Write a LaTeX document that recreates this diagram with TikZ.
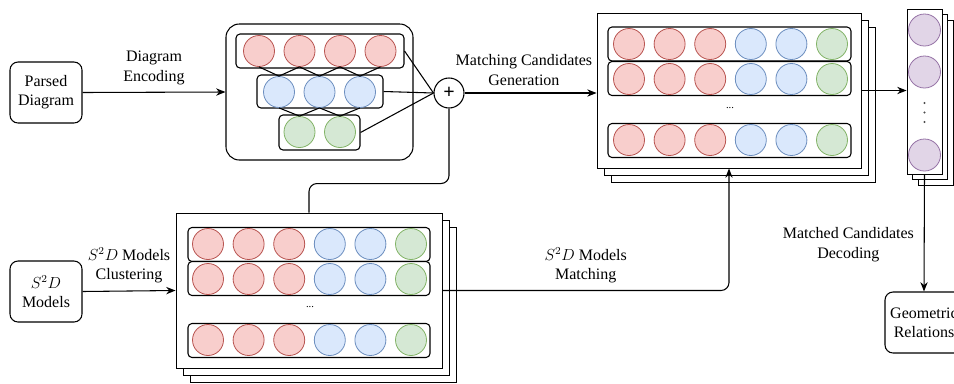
\documentclass[tikz,border=0pt]{standalone}
\usepackage{fontspec}
\setmainfont{Liberation Serif}
\usetikzlibrary{arrows.meta, positioning, calc}

\definecolor{unitred}{HTML}{F8CECC}
\definecolor{edgered}{HTML}{B85450}
\definecolor{unitblue}{HTML}{DAE8FC}
\definecolor{edgeblue}{HTML}{6C8EBF}
\definecolor{unitgreen}{HTML}{D5E8D4}
\definecolor{edgegreen}{HTML}{82B366}
\definecolor{unitpurple}{HTML}{E1D5E7}
\definecolor{edgepurple}{HTML}{9673A6}

\begin{document}
\begin{tikzpicture}[
    x=0.75pt, y=-0.75pt,
    every node/.style={font=\fontsize{12}{14.5}\selectfont, align=center},
    block/.style={draw, line width=0.8pt, rounded corners=6pt, fill=white, minimum width=54pt, minimum height=45.75pt, inner sep=0pt},
    rowbox/.style={draw, line width=0.8pt, rounded corners=3pt, fill=white, minimum height=25.5pt, inner sep=0pt},
    stackbox/.style={draw, line width=0.7pt, fill=white, inner sep=0pt},
    unit/.style={circle, line width=0.6pt, minimum size=23.25pt, inner sep=0pt},
    link/.style={line width=0.8pt},
    >={Stealth[length=7pt, width=5.5pt]}
]

% Canvas
\clip (0,0) rectangle (954,383);

% Inputs and output
\node[block] (pd) at (46,92.5) {Parsed\\Diagram};
\node[block] (sm) at (46,291.5) {$S^2D$\\Models};
\node[block, minimum width=58.5pt] (geo) at (924,322.5) {Geometric\\Relations};

% Diagram encoder
\node[draw, line width=0.8pt, rounded corners=10pt, minimum width=140.25pt, minimum height=102pt] (enc) at (319.5,92) {};
\node[rowbox, minimum width=126pt] (er) at (320,51) {};
\node[rowbox, minimum width=94.5pt, minimum height=24.75pt] (eb) at (320,91.5) {};
\node[rowbox, minimum width=60.75pt, minimum height=26.25pt] (eg) at (319.5,132.5) {};
\foreach \i/\x in {1/259,2/299.5,3/340,4/380.5}
  \node[unit, fill=unitred, draw=edgered] (r\i) at (\x,51) {};
\foreach \i/\x in {1/279,2/319.5,3/360}
  \node[unit, fill=unitblue, draw=edgeblue] (b\i) at (\x,92) {};
\foreach \i/\x in {1/299.5,2/340}
  \node[unit, fill=unitgreen, draw=edgegreen] (g\i) at (\x,132) {};
\foreach \a/\b in {1/1,2/1,2/2,3/2,3/3,4/3}
  \draw[link] (r\a.south) -- (b\b.north);
\foreach \a/\b in {1/1,2/1,2/2,3/2}
  \draw[link] (b\a.south) -- (g\b.north);

% Fusion
\node[circle, draw, line width=0.8pt, minimum size=22.5pt, inner sep=0pt, font=\fontsize{15}{15}\selectfont\bfseries] (plus) at (449,93) {+};
\draw[link] (er.east) -- (plus.west);
\draw[link] (eb.east) -- (plus.west);
\draw[link] (eg.east) -- (plus.west);

% Matching candidates stack
\node[stackbox, minimum width=198pt, minimum height=116.25pt] (cs3) at (743,104.5) {};
\node[stackbox, minimum width=198pt, minimum height=116.25pt] (cs2) at (736,97.5) {};
\node[stackbox, minimum width=198pt, minimum height=116.25pt] (cs) at (729,90.5) {};
\foreach \j/\y in {1/44,2/78.5,3/140.5}
  \node[rowbox, minimum width=182.25pt] (cr\j) at (729.5,\y) {};
\foreach \j/\y in {1/44,2/79,3/140}
  \foreach \c [count=\i] in {red,red,red,blue,blue,green}
    \node[unit, fill=unit\c, draw=edge\c] (c\j\i) at ({629+40.6*(\i-1)},\y) {};
\node[font=\footnotesize] (cdots) at (730,108) {...};

% S2D model stack
\node[stackbox, minimum width=199.5pt, minimum height=116.25pt] (ms3) at (323,304.5) {};
\node[stackbox, minimum width=199.5pt, minimum height=116.25pt] (ms2) at (316,297.5) {};
\node[stackbox, minimum width=199.5pt, minimum height=116.25pt] (ms) at (309,290.5) {};
\foreach \j/\y in {1/244.5,2/278.5,3/340.5}
  \node[rowbox, minimum width=181.5pt] (mr\j) at (309,\y) {};
\foreach \j/\y in {1/244,2/279,3/340}
  \foreach \c [count=\i] in {red,red,red,blue,blue,green}
    \node[unit, fill=unit\c, draw=edge\c] (m\j\i) at ({208+40.6*(\i-1)},\y) {};
\node[font=\footnotesize] (mdots) at (310,307) {...};

% Matched candidates stack
\node[stackbox, minimum width=26.25pt, minimum height=123.75pt] (ps3) at (935.5,102.5) {};
\node[stackbox, minimum width=26.25pt, minimum height=123.75pt] (ps2) at (930,97) {};
\node[stackbox, minimum width=26.25pt, minimum height=123.75pt] (ps) at (924.5,91.5) {};
\foreach \i/\y in {1/30,2/72,3/155}
  \node[unit, minimum size=24pt, fill=unitpurple, draw=edgepurple] (p\i) at (924.5,\y) {};
\foreach \y in {103,112.5,122}
  \fill[black!70] (924.5,\y) circle (0.9pt);

% Flow
\draw[link, ->] (pd.east) -- node[above=2pt] {Diagram\\Encoding} (enc.west);
\draw[link, ->] (plus.east) -- node[above=2pt, pos=0.45] {Matching Candidates\\Generation} (plus.east -| cs.west);
\draw[link, ->] (sm.east) -- node[above=2pt] {$S^2D$ Models\\Clustering} (ms.west);
\draw[link, ->, rounded corners=6pt] (ms.east) -| node[pos=0.25, above=2pt] {$S^2D$ Models\\Matching} (cs.south);
\draw[link, rounded corners=6pt] (ms.north) -- ++(0,-29) -| (plus.south);
\draw[link, ->] (cs.east) -- (cs.east -| ps.west);
\draw[link, ->] (ps.south) -- node[left=4pt, pos=0.6] {Matched Candidates\\Decoding} (geo.north);

\end{tikzpicture}
\end{document}
